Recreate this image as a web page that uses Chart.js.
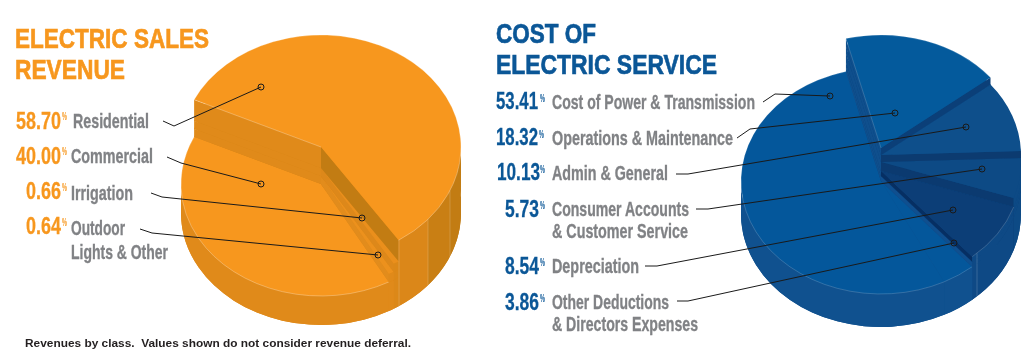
<!DOCTYPE html>
<html><head><meta charset="utf-8">
<script src="https://cdn.jsdelivr.net/npm/chart.js@4"></script>
<style>
html,body{margin:0;padding:0;background:#fff;overflow:hidden}
#stage{position:relative;width:1035px;height:354px;overflow:hidden}
canvas{position:absolute;top:0}
#salesCanvasWrap{position:absolute;left:0;top:0;width:500px;height:354px}
#costCanvasWrap{position:absolute;left:500px;top:0;width:535px;height:354px}
svg{position:absolute;left:0;top:0;pointer-events:none}
.t{position:absolute;white-space:pre;transform-origin:0 0;font-family:'Liberation Sans Narrow','Liberation Sans',sans-serif;font-weight:700;line-height:normal}
</style></head><body>
<div id="stage">
<div id="salesCanvasWrap"><canvas id="sales"></canvas></div>
<div id="costCanvasWrap"><canvas id="cost"></canvas></div>
<svg id="leaders" width="1035" height="354"></svg>
</div>
<script>
// ---- data ----
const salesCategories = ['Residential','Commercial','Irrigation','Outdoor Lights & Other'];
const salesValues = [58.70,40.00,0.66,0.64];
const salesClockwise = [0,2,3,1];
const costCategories = ['Cost of Power & Transmission','Operations & Maintenance','Admin & General','Consumer Accounts & Customer Service','Depreciation','Other Deductions & Directors Expenses'];
const costValues = [53.41,18.32,10.13,5.73,8.54,3.86];
const costClockwise = [1,2,3,4,5,0];

// ---- drawing styles ----
const ORANGE='#f7971e', BLUE='#0b5797', GREY='#808285';
const salesStyle = { // per slice in clockwise order
  cx:321, baseY:213, ratio:0.8, radius:140, rotation:295,
  heights:[66,45,37,29],
  top:['#f7971e','#ea8f1c','#ec911d','#f7971e'],
  wall:[null,'#dc8818','#e08a1a','#e08a1a'],
  startWall:['#e08a1a','#e08a1a','#e08a1a','#e08a1a'],
  endWall:['#c27c13','#dd881a','#e28c1c','#e08a1a'],
  bands:[[399,'#db8719'],[428,'#c97f14'],[450,'#c27c13']],
  seam:[[1,1],[0,0],[0,0],[1,0]], seamAlpha:.35,
  seamLines:[[399,66],[428,66],[450,66]]
};
const costStyle = {
  cx:881, baseY:214, ratio:0.807, radius:140, rotation:345.5,
  heights:[66,59,52,43,33,33],
  splits:[38],
  top:['#045a9c','#0e4f8b','#0d4a85','#0c3e77','#04579b','#04579b'],
  wall:['#0d4a85','#0d4a85','#0d4a85','#0e4985','#10518f','#10518f'],
  startWall:['#0f4f8d','#0c3e77','#0c3b70','#0b3a70','#0f4f8f','#0f4f8f'],
  endWall:['#0b3f78','#0c3b70','#0b3a70','#062f63','#10518f','#10518f'],
  endLow:[null,null,null,[38,'#0f4f8f'],null,null],
  seam:[[1,1],[0,0],[0,0],[1,0],[1,0],[1,0]], seamAlpha:.22,
  seamLines:[[977,43]]
};

const stepPie = {
  id:'stepPie',
  beforeDatasetsDraw(chart,args,s){
    const ctx=chart.ctx, arcs=chart.getDatasetMeta(0).data;
    const place=(a,z)=>{ctx.translate(a.x,s.baseY-z);ctx.scale(1,s.ratio);ctx.translate(-a.x,-a.y);};
    let bandFill=null;
    if(s.bands){
      const g=ctx.createLinearGradient(arcs[0].x-s.radius,0,arcs[0].x+s.radius,0);
      const W=2*s.radius;
      s.bands.forEach((b,i)=>{
        const p=Math.max(0,Math.min(1,(b[0]-s.cx+s.radius)/W));
        if(i===0) g.addColorStop(0,b[1]);
        g.addColorStop(p,b[1]);
        const q=i<s.bands.length-1?(s.bands[i+1][0]-s.cx+s.radius)/W-1e-4:1;
        g.addColorStop(q,b[1]);
      });
      bandFill=g;
    }
    const rim=(a,ang,z)=>[a.x+s.radius*Math.cos(ang), s.baseY-z+s.ratio*s.radius*Math.sin(ang)];
    const ctr=(a,z)=>[a.x,s.baseY-z];
    const wedge=(a,z,col)=>{
      ctx.save();place(a,z);
      ctx.beginPath();ctx.moveTo(a.x,a.y);ctx.arc(a.x,a.y,s.radius,a.startAngle,a.endAngle);ctx.closePath();
      ctx.fillStyle=col;ctx.fill();ctx.restore();
    };
    // outer wall: only the front half of the rim (sin >= 0) can be seen
    const hull=(a,z0,z1,col)=>{
      const ry=s.radius*s.ratio, T=2*Math.PI;
      ctx.fillStyle=col;
      for(let k=-1;k<=2;k++){
        const lo=Math.max(a.startAngle,k*T), hi=Math.min(a.endAngle,k*T+Math.PI);
        if(hi<=lo) continue;
        ctx.beginPath();
        ctx.ellipse(a.x,s.baseY-z0,s.radius,ry,0,lo,hi);
        ctx.ellipse(a.x,s.baseY-z1,s.radius,ry,0,hi,lo,true);
        ctx.closePath();ctx.fill();
      }
    };
    const quad=(a,ang,z0,z1,col)=>{
      const p=[ctr(a,z0),rim(a,ang,z0),rim(a,ang,z1),ctr(a,z1)];
      ctx.fillStyle=col;ctx.beginPath();p.forEach((q,i)=>i?ctx.lineTo(q[0],q[1]):ctx.moveTo(q[0],q[1]));ctx.closePath();ctx.fill();
    };
    const levels=[...new Set([0,...s.heights,...(s.splits||[])])].sort((x,y)=>x-y);
    levels.forEach((z1,k)=>{
      if(k>0){
        const z0=levels[k-1];
        const live=arcs.map((a,i)=>[a,i]).filter(([a,i])=>s.heights[i]>=z1);
        live.forEach(([a,i])=>wedge(a,z0,s.wall[i]||bandFill));
        live.forEach(([a,i])=>{
          quad(a,a.startAngle,z0,z1,s.startWall[i]);
          const low=s.endLow&&s.endLow[i];
          quad(a,a.endAngle,z0,z1,low&&z1<=low[0]?low[1]:s.endWall[i]);
        });
        live.forEach(([a,i])=>hull(a,z0,z1,s.wall[i]||bandFill));
        live.forEach(([a,i])=>{ if(s.heights[i]>z1) wedge(a,z1,s.wall[i]||bandFill); });
      }
      arcs.forEach((a,i)=>{
        if(s.heights[i]===z1){
          ctx.save();place(a,z1);
          a.draw(ctx);
          ctx.restore();
          ctx.save();place(a,z1);
          ctx.beginPath();
          if(s.seam[i][0]) ctx.arc(a.x,a.y,s.radius,a.startAngle,a.endAngle);
          ctx.restore();
          ctx.strokeStyle='rgba(255,255,255,'+s.seamAlpha+')';ctx.lineWidth=.8;ctx.stroke();
          if(s.seam[i][1]){
            const p=rim(a,a.startAngle,z1),c=ctr(a,z1);
            ctx.beginPath();ctx.moveTo(p[0],p[1]);ctx.lineTo(c[0],c[1]);ctx.stroke();
          }
        }
      });
    });
    (s.seamLines||[]).forEach(([x,h])=>{
      const ax=arcs[0].x, dx=x-s.cx, ry=s.radius*s.ratio, e=ry*Math.sqrt(1-(dx/s.radius)**2);
      ctx.strokeStyle='rgba(255,255,255,.22)';ctx.lineWidth=.8;
      ctx.beginPath();ctx.moveTo(ax+dx,s.baseY-h+e);ctx.lineTo(ax+dx,s.baseY+e);ctx.stroke();
    });
    return false;
  }
};

function makePie(id,pad,cats,vals,order,style){
  const el=document.getElementById(id);
  return new Chart(el,{
    type:'pie',
    plugins:[stepPie],
    data:{labels:order.map(i=>cats[i]),datasets:[{data:order.map(i=>vals[i]),backgroundColor:style.top,borderWidth:0,radius:style.radius,rotation:style.rotation,hoverOffset:0}]},
    options:{responsive:false,animation:false,events:[],layout:{padding:{left:pad}},
      plugins:{legend:{display:false},tooltip:{enabled:false},title:{display:false},stepPie:style}}
  });
}
const c1=document.getElementById('sales');c1.width=500;c1.height=354;
const c2=document.getElementById('cost');c2.width=535;c2.height=354;
makePie('sales',142,salesCategories,salesValues,salesClockwise,salesStyle);
makePie('cost',227,costCategories,costValues,costClockwise,costStyle);

// ---- text: [text, left, baseline, size, width, colour, stroke]
const fmt=v=>v.toFixed(2);
const T=[
 ['ELECTRIC SALES',15,48,28,194,ORANGE,.7],['REVENUE',15,79,28,110,ORANGE,.7],
 [fmt(salesValues[0]),16,129,24,45,ORANGE,.3],[fmt(salesValues[1]),16,164,24,45,ORANGE,.3],[fmt(salesValues[2]),26,199,24,35,ORANGE,.3],[fmt(salesValues[3]),26,234,24,35,ORANGE,.3],
 ['%',62,120,11,5,ORANGE,0],['%',62,155,11,5,ORANGE,0],['%',62,191,11,5,ORANGE,0],['%',62,226,11,5,ORANGE,0],
 [salesCategories[0],73,128,21,76,GREY,.35],[salesCategories[1],71,163,21,82,GREY,.35],[salesCategories[2],71,200,21,62,GREY,.35],['Outdoor',71,235,21,54,GREY,.35],['Lights & Other',71,259,21,97,GREY,.35],
 ['Revenues by class.  Values shown do not consider revenue deferral.',25,347,11.5,386,'#231f20',0],
 ['COST OF',496,43,28,100,BLUE,.7],['ELECTRIC SERVICE',496,74,28,221,BLUE,.7],
 [fmt(costValues[0]),496,109,24,42,BLUE,.3],[fmt(costValues[1]),496,145,24,42,BLUE,.3],[fmt(costValues[2]),497,180,24,43,BLUE,.3],[fmt(costValues[3]),505,217,24,34,BLUE,.3],[fmt(costValues[4]),505,274,24,34,BLUE,.3],[fmt(costValues[5]),505,310,24,34,BLUE,.3],
 ['%',540,102,11,5,BLUE,0],['%',539,138,11,5,BLUE,0],['%',540,173,11,5,BLUE,0],['%',540,209,11,5,BLUE,0],['%',540,266,11,5,BLUE,0],['%',540,302,11,5,BLUE,0],
 [costCategories[0],552,109,21,203,GREY,.35],[costCategories[1],552,145,21,181,GREY,.35],[costCategories[2],552,180,21,116,GREY,.35],['Consumer Accounts',552,216,21,137,GREY,.35],['& Customer Service',552,238,21,136,GREY,.35],[costCategories[4],552,273,21,87,GREY,.35],['Other Deductions',552,309,21,117,GREY,.35],['& Directors Expenses',552,331,21,146,GREY,.35]
];
const stage=document.getElementById('stage');
T.forEach(([t,x,b,sz,w,c,st])=>{
  const s=document.createElement('span');s.className='t';s.textContent=t;
  s.style.left=x+'px';s.style.top=(b-sz*0.905)+'px';s.style.fontSize=sz+'px';s.style.color=c;
  if(st) s.style.webkitTextStroke=st+'px '+c;
  if(sz<12&&t.length>5){s.style.fontFamily="'Liberation Sans',sans-serif";}
  stage.appendChild(s);
  s.style.transform='scaleX('+(w/s.getBoundingClientRect().width)+')';
});

// ---- leader lines ----
const L=[
 [[163,121],[174,126],[261,87]],[[167,157],[181,163],[261,184]],[[151,193],[162,197],[362,218]],[[140,229],[152,233],[378,255]],
 [[763,102],[775,94],[830,96]],[[737,138],[750,129],[895,113]],[[676,174],[688,174],[966,127]],[[696,209],[708,209],[982,169]],[[645,266],[657,266],[953,210]],[[677,301],[688,301],[954,243]]
];
const NS='http://www.w3.org/2000/svg',svg=document.getElementById('leaders');
L.forEach(p=>{
  const l=document.createElementNS(NS,'polyline');
  l.setAttribute('points',p.map(q=>q.join(',')).join(' '));
  l.setAttribute('fill','none');l.setAttribute('stroke','#1a1a1a');l.setAttribute('stroke-width','1');
  svg.appendChild(l);
  const e=p[p.length-1],o=document.createElementNS(NS,'circle');
  o.setAttribute('cx',e[0]);o.setAttribute('cy',e[1]);o.setAttribute('r','3');o.setAttribute('fill','none');o.setAttribute('stroke','#1a1a1a');o.setAttribute('stroke-width','1');
  svg.appendChild(o);
});
</script>
</body></html>
